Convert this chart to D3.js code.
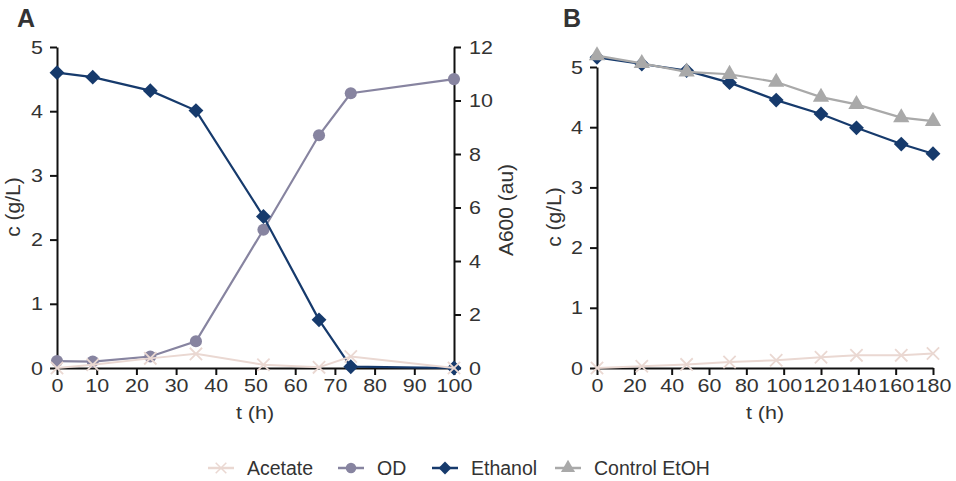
<!DOCTYPE html>
<html>
<head>
<meta charset="utf-8">
<script src="https://cdn.jsdelivr.net/npm/d3@7"></script>
<style>
  body { margin: 0; background: #fff; }
  text { font-family: "Liberation Sans", Arial, sans-serif; fill: #333; }
</style>
</head>
<body>
<div id="chart"></div>
<script>
// panel A data
const timeA = [0, 9, 23.5, 35, 52, 66, 74, 100];
const acetateA = [0, 0.05, 0.15, 0.22, 0.05, 0.01, 0.18, 0];
const odA = [0.26, 0.24, 0.43, 1.0, 5.17, 8.7, 10.27, 10.8];
const ethanolA = [4.6, 4.53, 4.32, 4.01, 2.36, 0.75, 0.02, 0];

// panel B data
const timeB = [0, 24, 48, 71, 96, 120, 139, 163, 180];
const acetateB = [0, 0.03, 0.06, 0.1, 0.13, 0.18, 0.21, 0.21, 0.24];
const ethanolB = [5.16, 5.05, 4.94, 4.74, 4.45, 4.22, 3.99, 3.72, 3.56];
const controlB = [5.19, 5.06, 4.92, 4.88, 4.75, 4.5, 4.38, 4.16, 4.1];

const ticksA = d3.range(0, 101, 10);
const ticksB = d3.range(0, 181, 20);
const legendNames = ["Acetate", "OD", "Ethanol", "Control EtOH"];

const W = 956, H = 481;
const stretch = 1.13; // reference glyphs are a bit wider than Arial
const colors = {
    "Acetate": "#ead8d2",
    "OD": "#8784a0",
    "Ethanol": "#163a6c",
    "Control EtOH": "#a9a9a9"
};
const symbols = {
    "Acetate": d3.symbolX,
    "OD": d3.symbolCircle,
    "Ethanol": d3.symbolSquare,
    "Control EtOH": d3.symbolTriangle
};
const symSize = {"Acetate": 100, "OD": 115, "Ethanol": 110, "Control EtOH": 115};

let svg = d3.select("#chart").append("svg")
    .attr("width", W).attr("height", H);

function styleAxis(g) {
    g.selectAll("path").attr("stroke", "#111").attr("stroke-width", 2);
    g.selectAll("line").attr("stroke", "#111").attr("stroke-width", 2);
    g.selectAll("text").attr("font-size", 19).attr("fill", "#333")
        .attr("font-family", "Liberation Sans, Arial, sans-serif")
        .each(function() {
            let t = d3.select(this);
            let x = +(t.attr("x") || 0);
            t.attr("x", x / stretch).attr("transform", `scale(${stretch},1)`);
        });
}

function markerTransform(name, px, py) {
    return name === "Ethanol" ? `translate(${px},${py}) rotate(45)` : `translate(${px},${py})`;
}

function drawSeries(g, x, y, xs, ys, name) {
    const pts = xs.map((t, i) => [t, ys[i]]);
    g.append("path").datum(pts)
        .attr("fill", "none")
        .attr("stroke", colors[name])
        .attr("stroke-width", name === "Acetate" ? 2 : 2.2)
        .attr("d", d3.line().x(d => x(d[0])).y(d => y(d[1])));
    g.selectAll(null).data(pts).enter().append("path")
        .attr("transform", d => markerTransform(name, x(d[0]), y(d[1])))
        .attr("d", d3.symbol().type(symbols[name]).size(symSize[name]))
        .attr("fill", name === "Acetate" ? "none" : colors[name])
        .attr("stroke", colors[name])
        .attr("stroke-width", name === "Acetate" ? 1.8 : 0);
}

function stretchedText(g, x, y, str, size) {
    return g.append("text")
        .attr("transform", `translate(${x},${y}) scale(${stretch},1)`)
        .attr("text-anchor", "middle").attr("font-size", size).text(str);
}

// ---------- Panel A ----------
let xA = d3.scaleLinear().domain([0, 100]).range([57, 454]);
let yA = d3.scaleLinear().domain([0, 5]).range([368, 47]);
let yA2 = d3.scaleLinear().domain([0, 12]).range([368, 47]);

let gA = svg.append("g");
gA.append("g").attr("transform", "translate(0,368)")
    .call(d3.axisBottom(xA).tickValues(ticksA).tickSize(7).tickSizeOuter(0).tickPadding(4))
    .call(styleAxis);
gA.append("g").attr("transform", "translate(57,0)")
    .call(d3.axisLeft(yA).ticks(5).tickSize(7).tickSizeOuter(0).tickPadding(7))
    .call(styleAxis);
gA.append("g").attr("transform", "translate(454,0)")
    .call(d3.axisRight(yA2).tickValues(d3.range(0, 13, 2)).tickSize(7).tickSizeOuter(0).tickPadding(8))
    .call(styleAxis);

drawSeries(gA, xA, yA2, timeA, odA, "OD");
drawSeries(gA, xA, yA, timeA, ethanolA, "Ethanol");
drawSeries(gA, xA, yA, timeA, acetateA, "Acetate");

gA.append("text").attr("x", 17).attr("y", 27)
    .attr("font-size", 25).attr("font-weight", "bold").attr("fill", "#111").text("A");
gA.append("text").attr("transform", "translate(20,207) rotate(-90)")
    .attr("text-anchor", "middle").attr("font-size", 21).text("c (g/L)");
gA.append("text").attr("transform", "translate(513,210) rotate(-90)")
    .attr("text-anchor", "middle").attr("font-size", 21).text("A600 (au)");
stretchedText(gA, 255, 419, "t (h)", 19);

// ---------- Panel B ----------
let xB = d3.scaleLinear().domain([0, 180]).range([597, 933]);
let yB = d3.scaleLinear().domain([0, 5]).range([368, 67]);

let gB = svg.append("g");
gB.append("g").attr("transform", "translate(0,368)")
    .call(d3.axisBottom(xB).tickValues(ticksB).tickSize(7).tickSizeOuter(0).tickPadding(4))
    .call(styleAxis);
gB.append("g").attr("transform", "translate(597,0)")
    .call(d3.axisLeft(yB).ticks(5).tickSize(7).tickSizeOuter(0).tickPadding(7))
    .call(styleAxis);

drawSeries(gB, xB, yB, timeB, acetateB, "Acetate");
drawSeries(gB, xB, yB, timeB, ethanolB, "Ethanol");
drawSeries(gB, xB, yB, timeB, controlB, "Control EtOH");

gB.append("text").attr("x", 563).attr("y", 27)
    .attr("font-size", 25).attr("font-weight", "bold").attr("fill", "#111").text("B");
gB.append("text").attr("transform", "translate(561,217) rotate(-90)")
    .attr("text-anchor", "middle").attr("font-size", 21).text("c (g/L)");
stretchedText(gB, 765, 419, "t (h)", 19);

// ---------- Legend ----------
const legendX = [208, 338, 432, 555];
let leg = svg.append("g").attr("transform", "translate(0,468)");
legendNames.forEach(function(name, i) {
    let lx = legendX[i];
    leg.append("line").attr("x1", lx).attr("x2", lx + 26).attr("y1", 0).attr("y2", 0)
        .attr("stroke", colors[name]).attr("stroke-width", 2.5);
    leg.append("path").attr("transform", markerTransform(name, lx + 13, 0))
        .attr("d", d3.symbol().type(symbols[name]).size(symSize[name] * 0.75))
        .attr("fill", name === "Acetate" ? "none" : colors[name])
        .attr("stroke", colors[name])
        .attr("stroke-width", name === "Acetate" ? 1.5 : 0);
    leg.append("text").attr("x", lx + 39).attr("y", 7)
        .attr("font-size", 19.5).text(name);
});
</script>
</body>
</html>
